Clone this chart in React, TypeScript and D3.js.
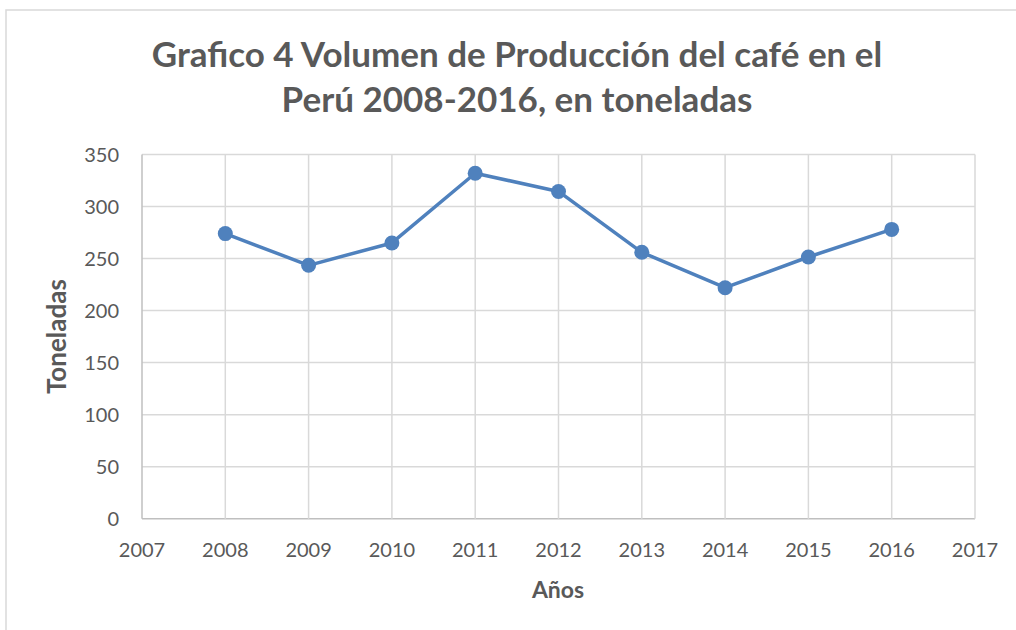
import { scaleLinear, line as d3line } from "d3";

const years = [2008, 2009, 2010, 2011, 2012, 2013, 2014, 2015, 2016];
const toneladas = [274, 243.5, 265, 332, 314.5, 256, 222, 251.5, 278];
const xTicks = [2007, 2008, 2009, 2010, 2011, 2012, 2013, 2014, 2015, 2016, 2017];
const yTicks = [0, 50, 100, 150, 200, 250, 300, 350];
const titleLines = [
  "Grafico 4 Volumen de Producción del café en el",
  "Perú 2008-2016, en toneladas",
];

const W = 1016;
const H = 630;
const plot = { left: 142, right: 975, top: 154.5, bottom: 518.7 };
const FONT = "Lato, 'Open Sans', sans-serif";
const TEXT = "#595959";
const GRID = "#d9d9d9";
const BLUE = "#4f81bd";

export default function App() {
  const x = scaleLinear().domain([2007, 2017]).range([plot.left, plot.right]);
  const y = scaleLinear().domain([0, 350]).range([plot.bottom, plot.top]);
  const pts = years.map((yr, i) => [yr, toneladas[i]] as [number, number]);
  const path = d3line<[number, number]>()
    .x((d) => x(d[0]))
    .y((d) => y(d[1]))(pts);

  return (
    <svg
      width={W}
      height={H}
      style={{ position: "absolute", left: 0, top: 0, background: "#fff" }}
      fontFamily={FONT}
    >
      <rect x={6} y={10} width={W + 10} height={H + 10} fill="#fff" stroke={GRID} strokeWidth={1.5} />

      {/* title */}
      {titleLines.map((t, i) => (
        <text
          key={i}
          x={517}
          y={67 + i * 45}
          textAnchor="middle"
          fontSize={35}
          fontWeight="bold"
          fill={TEXT}
        >
          {t}
        </text>
      ))}

      {/* grid */}
      {yTicks.map((v) => (
        <line key={"h" + v} x1={plot.left} x2={plot.right} y1={y(v)} y2={y(v)} stroke={v === 0 ? "#bfbfbf" : GRID} strokeWidth={1.5} />
      ))}
      {xTicks.map((v) => (
        <line key={"v" + v} x1={x(v)} x2={x(v)} y1={plot.top} y2={plot.bottom} stroke={v === 2007 ? "#bfbfbf" : GRID} strokeWidth={1.5} />
      ))}

      {/* tick labels */}
      {yTicks.map((v) => (
        <text key={"yl" + v} x={119} y={y(v)} dy="0.35em" textAnchor="end" fontSize={20} fill={TEXT}>
          {v}
        </text>
      ))}
      {xTicks.map((v) => (
        <text key={"xl" + v} x={x(v)} y={557} textAnchor="middle" fontSize={20} fill={TEXT}>
          {v}
        </text>
      ))}

      {/* axis titles */}
      <text x={558} y={598} textAnchor="middle" fontSize={23} fontWeight="bold" fill={TEXT}>
        Años
      </text>
      <text
        transform={`translate(66,${(plot.top + plot.bottom) / 2}) rotate(-90)`}
        textAnchor="middle"
        fontSize={26}
        fontWeight="bold"
        fill={TEXT}
      >
        Toneladas
      </text>

      {/* series */}
      <path d={path ?? ""} fill="none" stroke={BLUE} strokeWidth={3.5} strokeLinejoin="round" />
      {pts.map((d, i) => (
        <circle key={i} cx={x(d[0])} cy={y(d[1])} r={7.5} fill={BLUE} />
      ))}
    </svg>
  );
}
